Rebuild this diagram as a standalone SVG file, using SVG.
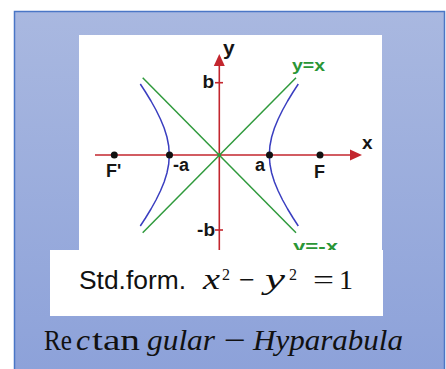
<svg xmlns="http://www.w3.org/2000/svg" width="446" height="369" viewBox="0 0 446 369">
<defs>
<linearGradient id="bg" x1="0" y1="0" x2="0" y2="1">
<stop offset="0" stop-color="#a9b8e0"/>
<stop offset="1" stop-color="#8ca1d9"/>
</linearGradient>
<style>
.ax{stroke:#c3262e;stroke-width:1.6;fill:none}
.ah{fill:#c3262e}
.as{stroke:#2f9a3c;stroke-width:1.5;fill:none}
.hy{stroke:#3a3ec0;stroke-width:1.5;fill:none;stroke-linejoin:round}
.dot{fill:#111}
.lb{font-family:"Liberation Sans",Arial,sans-serif;font-weight:bold;fill:#151515}
.gl{font-family:"Liberation Sans",Arial,sans-serif;font-weight:bold;fill:#2a9636;font-size:17px}
.sf{font-family:"Liberation Sans",Arial,sans-serif;font-size:25px;fill:#111}
.mt{font-family:"Liberation Serif","Times New Roman",serif;fill:#111}
.it{font-style:italic}
</style>
</defs>
<rect x="0" y="0" width="446" height="369" fill="#ffffff"/>
<rect id="panel" x="14.5" y="11.5" width="430" height="370" fill="url(#bg)" stroke="#4a76c6" stroke-width="1.5"/>
<rect id="graph-bg" x="79" y="35" width="303" height="215" fill="#ffffff"/>
<g id="connectors">
<line class="as" x1="142.7" y1="232.7" x2="296" y2="77.7"/>
<line class="as" x1="142.7" y1="77.7" x2="296" y2="232.7"/>
<path class="hy" d="M298.3,84 L293.1,92 L287.6,101 L282.6,110 L278.2,119 L274.45,128 L271.65,137 L269.9,146 L269.3,155 L269.9,164 L271.65,173 L274.45,182 L278.2,191 L282.6,200 L287.6,209 L293.1,218 L298.3,226"/>
<path class="hy" d="M140.3,84 L145.5,92 L151,101 L156,110 L160.4,119 L164.15,128 L166.95,137 L168.7,146 L169.3,155 L168.7,164 L166.95,173 L164.15,182 L160.4,191 L156,200 L151,209 L145.5,218 L140.3,226"/>
<line class="ax" x1="95" y1="155" x2="352" y2="155"/>
<polygon class="ah" points="350,149.5 362,155 350,160.5"/>
<line class="ax" x1="219.3" y1="250" x2="219.3" y2="64"/>
<polygon class="ah" points="213.8,66 219.3,54 224.8,66"/>
<line class="ax" x1="215" y1="82.7" x2="223" y2="82.7"/>
<line class="ax" x1="215" y1="230" x2="223" y2="230"/>
</g>
<g id="points">
<circle class="dot" cx="114.3" cy="155" r="3.5"/>
<circle class="dot" cx="169.5" cy="155" r="3.5"/>
<circle class="dot" cx="269.5" cy="155" r="3.5"/>
<circle class="dot" cx="320" cy="155" r="3.5"/>
<circle cx="219.3" cy="155" r="2" fill="#2f9a3c"/>
</g>
<g id="labels">
<text class="lb" x="223" y="55" font-size="21">y</text>
<text class="lb" x="362" y="149" font-size="19">x</text>
<text class="lb" x="214" y="88" font-size="19" text-anchor="end">b</text>
<text class="lb" x="215" y="236" font-size="19" text-anchor="end">-b</text>
<text class="lb" x="106" y="177" font-size="18">F'</text>
<text class="lb" x="173" y="171" font-size="18">-a</text>
<text class="lb" x="255" y="171" font-size="18">a</text>
<text class="lb" x="314" y="178" font-size="18">F</text>
<text class="gl" x="292" y="71" textLength="33" lengthAdjust="spacingAndGlyphs">y=x</text>
<text class="gl" x="293" y="252" textLength="45" lengthAdjust="spacingAndGlyphs">y=-x</text>
</g>
<g id="formula-box">
<rect x="50" y="250" width="333" height="66" fill="#ffffff"/>
<text class="sf" x="79" y="289" textLength="107" lengthAdjust="spacingAndGlyphs">Std.form.</text>
<text class="mt it" x="203" y="289" font-size="30" textLength="17" lengthAdjust="spacingAndGlyphs">x</text>
<text class="mt" x="222" y="280" font-size="16">2</text>
<text class="mt" x="239" y="289" font-size="28">−</text>
<text class="mt it" x="265" y="289" font-size="30" textLength="20" lengthAdjust="spacingAndGlyphs">y</text>
<text class="mt" x="289" y="280" font-size="16">2</text>
<text class="mt" x="313" y="289" font-size="28" textLength="21" lengthAdjust="spacingAndGlyphs">=</text>
<text class="mt" x="339" y="289" font-size="28">1</text>
</g>
<g id="title">
<text class="mt" y="350" font-size="30"><tspan x="44" textLength="28" lengthAdjust="spacingAndGlyphs">Re</tspan><tspan class="it" x="76" textLength="14" lengthAdjust="spacingAndGlyphs">c</tspan><tspan x="92" textLength="48" lengthAdjust="spacingAndGlyphs">tan</tspan><tspan class="it" x="147" textLength="68" lengthAdjust="spacingAndGlyphs">gular</tspan><tspan x="224" textLength="22" lengthAdjust="spacingAndGlyphs">−</tspan><tspan class="it" x="253" textLength="150" lengthAdjust="spacingAndGlyphs">Hyparabula</tspan></text>
</g>
</svg>
